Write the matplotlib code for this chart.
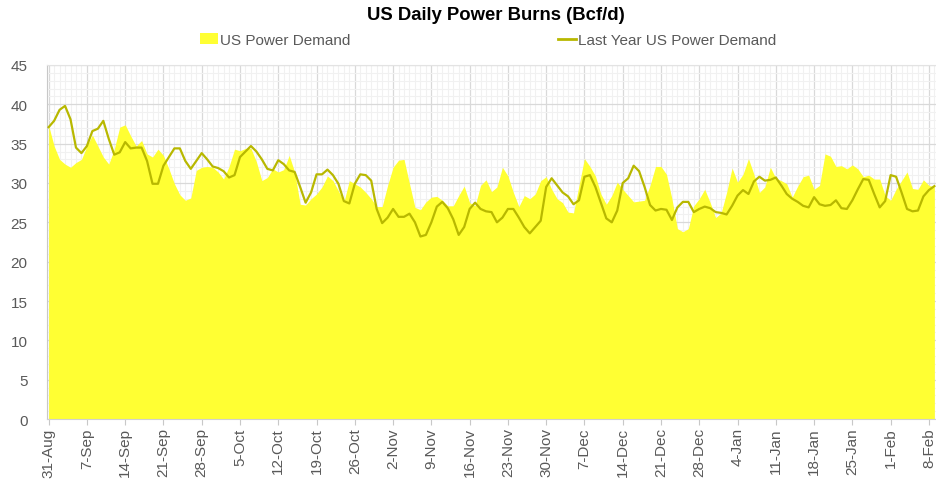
import numpy as np
import matplotlib
matplotlib.use("Agg")
import matplotlib.pyplot as plt
from matplotlib.patches import Patch
from matplotlib.lines import Line2D

plt.rcParams['font.family'] = ['Liberation Sans', 'DejaVu Sans']

# daily values from 31-Aug to 9-Feb
demand = [37.3, 34.7, 33.0, 32.4, 32.0, 32.6, 33.0, 34.7, 36.1, 34.7, 33.3, 32.4, 34.3, 37.1,
          37.4, 36.0, 34.7, 35.4, 33.7, 33.3, 34.3, 33.5, 31.8, 29.9, 28.5, 27.8, 28.1, 31.6,
          32.0, 32.1, 32.0, 31.4, 30.5, 32.1, 34.3, 34.1, 34.4, 34.4, 32.7, 30.3, 30.7, 31.8,
          31.4, 31.7, 33.5, 31.4, 27.3, 27.2, 28.0, 28.6, 29.5, 30.9, 30.3, 29.0, 27.6, 30.3,
          29.9, 29.5, 28.8, 28.0, 27.0, 27.0, 29.7, 32.0, 32.9, 33.0, 29.9, 26.9, 26.6, 27.6,
          28.2, 28.3, 27.8, 27.1, 27.1, 28.4, 29.6, 27.5, 27.1, 29.7, 30.4, 28.9, 29.5,
          32.0, 30.9, 28.8, 27.0, 28.4, 28.0, 28.6, 30.3, 30.8, 29.2, 28.0, 27.5, 26.3, 26.2,
          29.7, 33.1, 32.1, 30.9, 28.6, 27.3, 28.4, 30.1, 29.2, 28.4, 27.6, 27.7, 27.8, 29.7,
          32.1, 32.1, 31.1, 28.0, 24.2, 23.8, 24.2, 27.1, 28.0, 29.2, 27.5, 25.6, 26.2, 28.8,
          31.9, 30.1, 31.1, 33.1, 31.1, 28.8, 29.5, 32.0, 30.6, 30.3, 29.9, 28.2, 29.6,
          30.8, 31.0, 29.2, 29.7, 33.7, 33.4, 32.1, 32.2, 31.8, 32.3, 31.8, 30.8, 31.0, 30.5,
          30.5, 28.4, 27.8, 29.2, 30.3, 31.4, 29.3, 29.2, 30.4, 29.7, 29.5]

last_year = [37.1, 37.9, 39.3, 39.8, 38.1, 34.5, 33.8, 34.7, 36.6, 36.9, 37.9, 35.6, 33.6, 33.9,
             35.2, 34.4, 34.5, 34.5, 32.8, 29.9, 29.9, 32.2, 33.3, 34.4, 34.4, 32.8, 31.8, 32.8,
             33.8, 33.0, 32.1, 31.9, 31.5, 30.7, 31.0, 33.3, 34.0, 34.7, 34.0, 33.0, 31.8, 31.6,
             32.9, 32.4, 31.6, 31.4, 29.5, 27.5, 28.8, 31.1, 31.1, 31.7, 31.0, 29.9, 27.7, 27.4,
             29.9, 31.1, 31.0, 30.3, 26.7, 24.9, 25.6, 26.7, 25.7, 25.7, 26.1, 25.0, 23.2, 23.4,
             25.0, 27.0, 27.6, 26.8, 25.4, 23.4, 24.4, 26.7, 27.5, 26.7, 26.4, 26.3, 25.0,
             25.6, 26.7, 26.7, 25.6, 24.4, 23.6, 24.4, 25.2, 29.5, 30.6, 29.7, 28.8, 28.3, 27.3,
             27.8, 30.8, 31.0, 29.5, 27.5, 25.5, 25.0, 26.5, 30.0, 30.6, 32.2, 31.5, 29.5, 27.2,
             26.5, 26.7, 26.6, 25.3, 26.9, 27.6, 27.6, 26.3, 26.7, 27.0, 26.8, 26.3, 26.2, 26.0,
             27.1, 28.4, 29.1, 28.6, 30.2, 30.8, 30.3, 30.4, 30.7, 29.7, 28.6, 28.0, 27.6,
             27.1, 26.9, 28.2, 27.3, 27.1, 27.2, 27.8, 26.8, 26.7, 27.8, 29.2, 30.5, 30.4, 28.6,
             26.9, 27.7, 31.0, 30.8, 28.8, 26.7, 26.4, 26.5, 28.3, 29.1, 29.6]

tick_labels = ['31-Aug', '7-Sep', '14-Sep', '21-Sep', '28-Sep', '5-Oct', '12-Oct', '19-Oct',
               '26-Oct', '2-Nov', '9-Nov', '16-Nov', '23-Nov', '30-Nov', '7-Dec', '14-Dec',
               '21-Dec', '28-Dec', '4-Jan', '11-Jan', '18-Jan', '25-Jan', '1-Feb', '8-Feb']

fill_color = '#ffff33'
line_color = '#b8b800'
text_color = '#595959'

x = np.arange(len(demand))

fig = plt.figure(figsize=(9.37, 4.81), dpi=100)
ax = fig.add_axes([47/937, 1 - 420/481, 889/937, 354/481])

ax.fill_between(x, demand, 0, color=fill_color, linewidth=0, zorder=2)
ax.plot(x, last_year, color=line_color, linewidth=1.6, zorder=3)

ax.set_xlim(-0.3, len(demand) - 0.7)
ax.set_ylim(0, 45)
ax.set_yticks(np.arange(0, 46, 5))
ax.set_yticks(np.arange(0, 46, 1), minor=True)
ax.set_xticks(np.arange(0, 7 * len(tick_labels), 7))
ax.set_xticklabels(tick_labels, rotation=90)
ax.set_xticks(x, minor=True)

ax.grid(which='major', color='#d9d9d9', linewidth=0.9, zorder=0)
ax.grid(which='minor', color='#f1f1f1', linewidth=0.8, zorder=0)
ax.set_axisbelow(True)

ax.spines['right'].set_visible(False)
ax.spines['top'].set_color('#e3e3e3')
ax.spines['left'].set_color('#c8c8c8')
ax.spines['bottom'].set_color('#d0d0d0')

ax.tick_params(axis='y', which='both', length=0, pad=14, labelsize=11, labelcolor=text_color)
ax.tick_params(axis='x', which='major', length=4, color='#c8c8c8', pad=2, labelsize=11,
               labelcolor=text_color)
ax.tick_params(axis='x', which='minor', length=0)

fig.text(496/937, 1 - 16/481, 'US Daily Power Burns (Bcf/d)', ha='center', va='center',
         fontsize=13.3, fontweight='bold', color='black')

handles = [Patch(facecolor=fill_color, edgecolor='none'),
           Line2D([0], [0], color=line_color, linewidth=2)]
fig.legend(handles, ['US Power Demand', 'Last Year US Power Demand'], loc='center',
           bbox_to_anchor=(488/937, 1 - 41/481), ncol=2, frameon=False, fontsize=11,
           handlelength=1.2, handleheight=0.7, handletextpad=0.1, columnspacing=13.6,
           labelcolor=text_color)

fig.savefig('out.png', dpi=100)
